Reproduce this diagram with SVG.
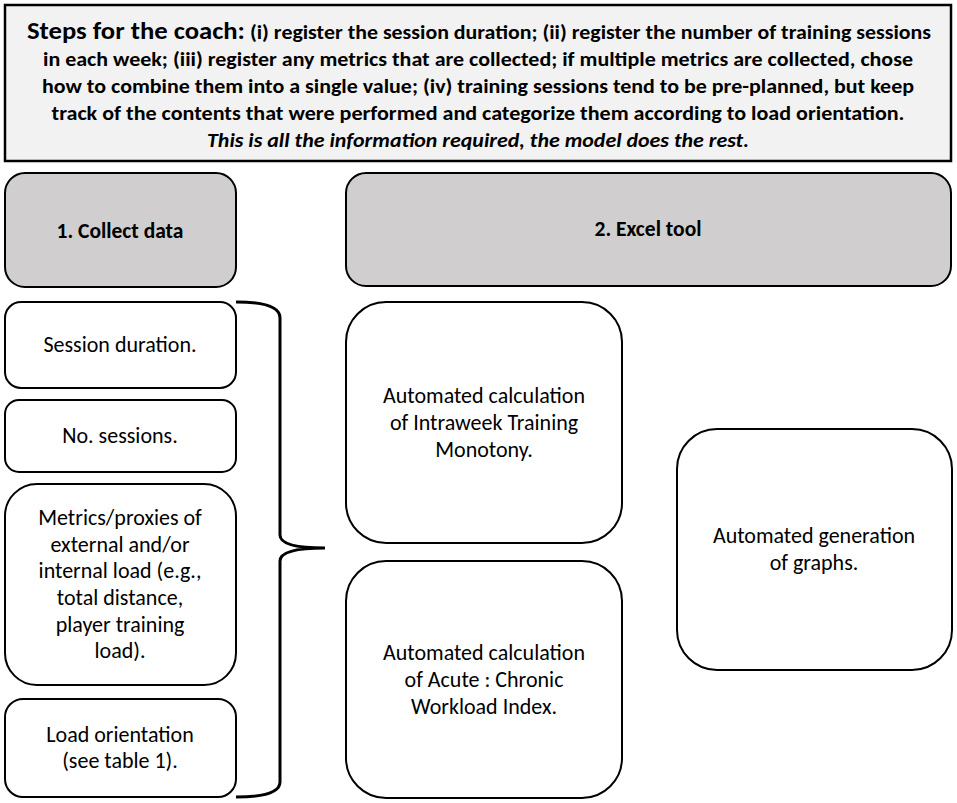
<svg xmlns="http://www.w3.org/2000/svg" width="957" height="803" viewBox="0 0 957 803">
<style>
text{font-family:Carlito,Lato,"Open Sans",sans-serif;fill:#000;text-anchor:middle}
.hd{font-weight:bold;font-size:20.5px}
.n{font-size:22px}
.b{font-weight:bold;font-size:21.5px}
.box{fill:#fff;stroke:#000;stroke-width:2}
.grey{fill:#d0cece;stroke:#000;stroke-width:2}
</style>
<rect width="957" height="803" fill="#fff"/>
<g id="header">
<rect x="5" y="5" width="946" height="156" fill="#f2f2f2" stroke="#000" stroke-width="2.5"/>
<text class="hd" x="479" y="39" textLength="904" lengthAdjust="spacingAndGlyphs"><tspan font-size="25">Steps for the coach:</tspan> (i) register the session duration; (ii) register the number of training sessions</text>
<text class="hd" x="478" y="66" textLength="870" lengthAdjust="spacingAndGlyphs">in each week; (iii) register any metrics that are collected; if multiple metrics are collected, chose</text>
<text class="hd" x="478" y="93" textLength="872" lengthAdjust="spacingAndGlyphs">how to combine them into a single value; (iv) training sessions tend to be pre-planned, but keep</text>
<text class="hd" x="478" y="120" textLength="853" lengthAdjust="spacingAndGlyphs">track of the contents that were performed and categorize them according to load orientation.</text>
<text class="hd" x="478" y="147" font-style="italic" textLength="542" lengthAdjust="spacingAndGlyphs">This is all the information required, the model does the rest.</text>
</g>
<g id="collect">
<rect class="grey" x="5" y="173" width="231" height="114" rx="20"/>
<text class="b" x="120" y="238">1. Collect data</text>
</g>
<g id="excel">
<rect class="grey" x="346" y="173" width="605" height="113" rx="20"/>
<text class="b" x="648" y="236">2. Excel tool</text>
</g>
<g id="session">
<rect class="box" x="5" y="302" width="231" height="86" rx="16"/>
<text class="n" x="120" y="352">Session duration.</text>
</g>
<g id="nosessions">
<rect class="box" x="5" y="400" width="231" height="72" rx="14"/>
<text class="n" x="120" y="443">No. sessions.</text>
</g>
<g id="metrics">
<rect class="box" x="5" y="484" width="231" height="201" rx="32"/>
<text class="n" x="120" y="525">Metrics/proxies of</text>
<text class="n" x="120" y="552">external and/or</text>
<text class="n" x="120" y="578">internal load (e.g.,</text>
<text class="n" x="120" y="605">total distance,</text>
<text class="n" x="120" y="632">player training</text>
<text class="n" x="120" y="658">load).</text>
</g>
<g id="loadorient">
<rect class="box" x="5" y="699" width="231" height="98" rx="18"/>
<text class="n" x="120" y="742">Load orientation</text>
<text class="n" x="120" y="768">(see table 1).</text>
</g>
<g id="monotony">
<rect class="box" x="346" y="302" width="276" height="241" rx="40"/>
<text class="n" x="484" y="403">Automated calculation</text>
<text class="n" x="484" y="430">of Intraweek Training</text>
<text class="n" x="484" y="457">Monotony.</text>
</g>
<g id="acwr">
<rect class="box" x="346" y="561" width="276" height="237" rx="40"/>
<text class="n" x="484" y="660">Automated calculation</text>
<text class="n" x="484" y="687">of Acute : Chronic</text>
<text class="n" x="484" y="714">Workload Index.</text>
</g>
<g id="graphs">
<rect class="box" x="677" y="429" width="275" height="241" rx="40"/>
<text class="n" x="814" y="543">Automated generation</text>
<text class="n" x="814" y="570">of graphs.</text>
</g>
<g id="connectors">
<path d="M236,302 Q280,302 280,318 L280,535 Q280,548 325,548 Q280,548 280,561 L280,782 Q280,797 236,797" fill="none" stroke="#000" stroke-width="3"/>
</g>
</svg>
